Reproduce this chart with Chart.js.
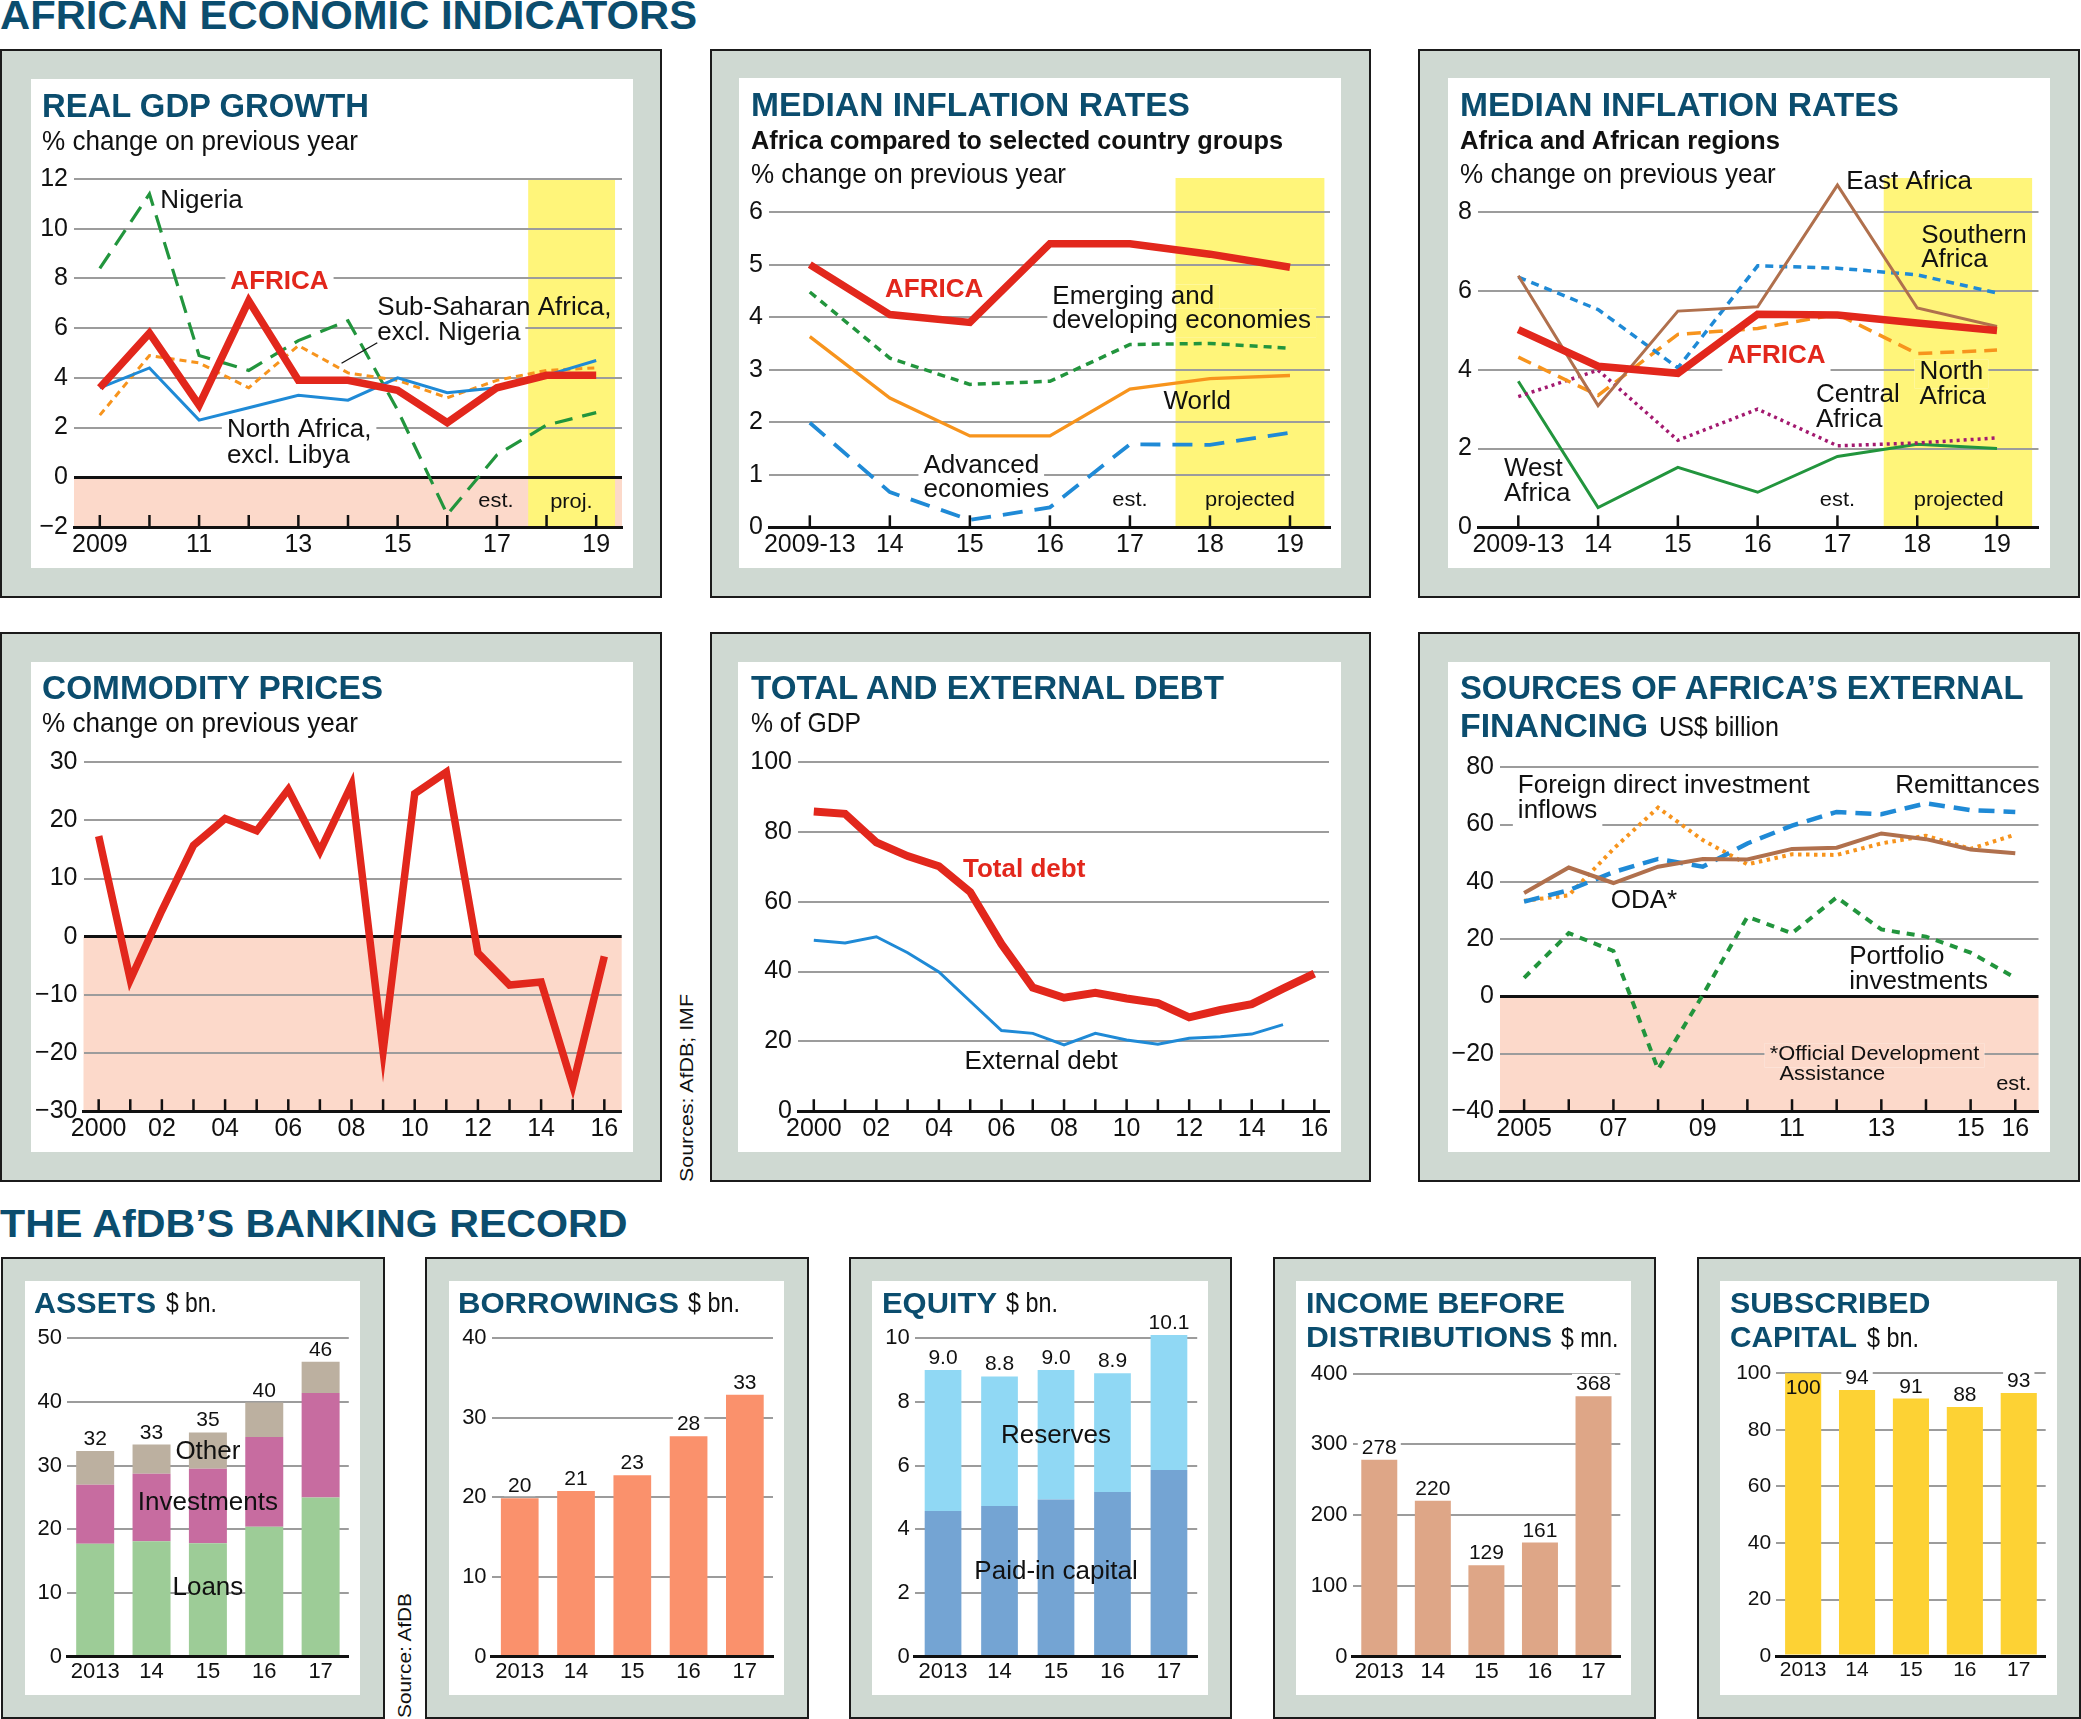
<!DOCTYPE html>
<html>
<head>
<meta charset="utf-8">
<script src="https://cdn.jsdelivr.net/npm/chart.js@4.4.1/dist/chart.umd.min.js"></script>
<style>
html, body { margin: 0; padding: 0; background: #fff; }
body { width: 2081px; height: 1719px; position: relative; overflow: hidden; font-family: "Liberation Sans", Arial, sans-serif; color: #111; }
.box { position: absolute; background: #cfd9d2; border: 2.5px solid #1b1b1b; box-sizing: border-box; }
.inner { position: absolute; background: #fff; }
canvas { position: absolute; }
.t { position: absolute; white-space: nowrap; line-height: 1; transform-origin: 0 0; }
</style>
</head>
<body>
<script>
// real GDP growth, % change on previous year
const gdpYears = [2009, 2010, 2011, 2012, 2013, 2014, 2015, 2016, 2017, 2018, 2019];
const gdpYearLabels = ['2009', '', '11', '', '13', '', '15', '', '17', '', '19'];
const gdpAfrica = [3.6, 5.8, 2.9, 7.1, 3.9, 3.9, 3.5, 2.2, 3.6, 4.1, 4.1];
const gdpNorthAfrica = [3.6, 4.4, 2.3, 2.8, 3.3, 3.1, 4.0, 3.4, 3.6, 4.1, 4.7];
const gdpSubSaharan = [2.5, 4.9, 4.6, 3.6, 5.3, 4.2, 3.9, 3.2, 3.9, 4.3, 4.4];
const gdpNigeria = [8.4, 11.4, 4.9, 4.3, 5.5, 6.3, 2.7, -1.5, 0.9, 2.1, 2.6];
const gdpTicks = [-2, 0, 2, 4, 6, 8, 10, 12];

// median inflation, Africa vs country groups
const inflPeriods = ['2009-13', '14', '15', '16', '17', '18', '19'];
const inflAfrica = [5.0, 4.05, 3.9, 5.4, 5.4, 5.2, 4.95];
const inflEmerging = [4.48, 3.22, 2.72, 2.78, 3.48, 3.5, 3.41];
const inflWorld = [3.63, 2.46, 1.74, 1.74, 2.63, 2.83, 2.89];
const inflAdvanced = [1.99, 0.67, 0.14, 0.38, 1.58, 1.57, 1.8];
const inflTicks = [0, 1, 2, 3, 4, 5, 6];

// median inflation, African regions
const regAfrica = [5.02, 4.09, 3.91, 5.41, 5.39, 5.19, 5.0];
const regEast = [6.39, 3.09, 5.49, 5.6, 8.69, 5.57, 5.1];
const regSouthern = [6.35, 5.53, 4.05, 6.64, 6.58, 6.41, 5.95];
const regNorth = [4.32, 3.35, 4.9, 5.05, 5.41, 4.41, 4.5];
const regCentral = [3.32, 3.99, 2.21, 3.0, 2.07, 2.14, 2.27];
const regWest = [3.71, 0.5, 1.52, 0.89, 1.8, 2.11, 2.0];
const regTicks = [0, 2, 4, 6, 8];

// commodity prices
const comYears = [2000, 2001, 2002, 2003, 2004, 2005, 2006, 2007, 2008, 2009, 2010, 2011, 2012, 2013, 2014, 2015, 2016];
const comYearLabels = ['2000', '', '02', '', '04', '', '06', '', '08', '', '10', '', '12', '', '14', '', '16'];
const comChange = [17.3, -7.4, 4.5, 15.7, 20.3, 18.2, 25.3, 14.7, 26.1, -19.7, 24.6, 28.3, -2.8, -8.3, -7.8, -25.6, -3.4];
const comTicks = [-30, -20, -10, 0, 10, 20, 30];

// total and external debt, % of GDP
const debtYears = [2000, 2001, 2002, 2003, 2004, 2005, 2006, 2007, 2008, 2009, 2010, 2011, 2012, 2013, 2014, 2015, 2016];
const debtTotal = [85.9, 85.2, 77.0, 73.1, 70.2, 62.8, 47.9, 35.4, 32.5, 33.9, 32.3, 31.0, 26.9, 29.0, 30.7, 35.1, 39.4];
const debtExternal = [49.0, 48.2, 50.0, 45.4, 39.9, 31.5, 23.1, 22.3, 19.0, 22.3, 20.4, 19.2, 20.9, 21.3, 22.1, 24.8];
const debtTicks = [0, 20, 40, 60, 80, 100];

// sources of external financing, US$ billion
const finYears = [2005, 2006, 2007, 2008, 2009, 2010, 2011, 2012, 2013, 2014, 2015, 2016];
const finYearLabels = ['2005', '', '07', '', '09', '', '11', '', '13', '', '15', '16'];
const finFdi = [33.4, 35.3, 51.5, 65.9, 54.6, 46.1, 49.6, 49.4, 53.4, 56.1, 51.5, 56.5];
const finRemit = [33.1, 37.1, 43.4, 48.0, 45.3, 53.4, 59.6, 64.4, 63.6, 67.4, 65.0, 64.4];
const finOda = [36.1, 45.0, 39.6, 45.3, 48.0, 47.8, 51.5, 51.9, 56.9, 54.9, 51.3, 50.0];
const finPortfolio = [6.5, 22.1, 15.9, -25.4, 0.5, 27.8, 22.1, 34.6, 23.4, 20.9, 15.3, 6.5];
const finTicks = [-40, -20, 0, 20, 40, 60, 80];

// AfDB banking record
const bankYears = ['2013', '14', '15', '16', '17'];
const assetLoans = [17.7, 18.1, 17.8, 20.4, 25.0];
const assetInvestments = [9.3, 10.6, 11.7, 14.1, 16.4];
const assetOther = [5.3, 4.6, 5.7, 5.4, 4.9];
const assetTicks = [0, 10, 20, 30, 40, 50];
const borrowings = [19.9, 20.8, 22.8, 27.7, 32.9];
const borrowTicks = [0, 10, 20, 30, 40];
const equityPaidIn = [4.57, 4.73, 4.93, 5.17, 5.86];
const equityReserves = [4.43, 4.07, 4.07, 3.73, 4.24];
const equityTicks = [0, 2, 4, 6, 8, 10];
const income = [278, 220, 129, 161, 368];
const incomeTicks = [0, 100, 200, 300, 400];
const subscribed = [100, 94, 91, 88, 93];
const subscribedTicks = [0, 20, 40, 60, 80, 100];

const FONT = '"Liberation Sans", Arial, sans-serif';
const RED = '#e2271c', BLUE = '#1f8ad6', ORANGE = '#f7941d', GREEN = '#22953d', BROWN = '#b0704d', PURPLE = '#a3196f';
const GRID = '#9c9c9c', PINK = '#fcd9ca', YELLOW = '#fff57a', NAVY = '#0b4d6e';

Chart.defaults.font.family = FONT;
Chart.defaults.color = '#111';

function box(x, y, w, h) {
  const d = document.createElement('div');
  d.className = 'box';
  Object.assign(d.style, { left: x + 'px', top: y + 'px', width: w + 'px', height: h + 'px' });
  document.body.appendChild(d);
}

function inner(r) {
  const d = document.createElement('div');
  d.className = 'inner';
  Object.assign(d.style, { left: r.x + 'px', top: r.y + 'px', width: r.w + 'px', height: r.h + 'px' });
  document.body.appendChild(d);
}

function text(x, base, str, size, o = {}) {
  const d = document.createElement('div');
  d.className = 't';
  d.textContent = str;
  d.style.fontSize = size + 'px';
  d.style.left = x + 'px';
  d.style.top = (base - 0.8465 * size) + 'px';
  d.style.fontWeight = o.bold ? 'bold' : 'normal';
  d.style.color = o.color || '#111';
  document.body.appendChild(d);
  if (o.w) d.style.transform = `scaleX(${o.w / d.getBoundingClientRect().width})`;
  return d;
}

function vtext(x, y, str, size, w) {
  const d = text(x, 0, str, size);
  d.style.top = y + 'px';
  const k = w / d.getBoundingClientRect().width;
  d.style.transform = `rotate(-90deg) scaleX(${k})`;
}

function line(xs, ys, color, width, dash) {
  return {
    data: ys.map((v, i) => ({ x: xs[i], y: v })),
    borderColor: color, borderWidth: width, borderDash: dash || [],
    pointRadius: 0, fill: false, tension: 0
  };
}

function yAxis(min, max, ticks, size, pad) {
  const dark = c => c.tick && (c.tick.value === 0 || c.tick.value === min);
  return {
    type: 'linear', min, max,
    afterBuildTicks: s => { s.ticks = ticks.map(v => ({ value: v })); },
    border: { display: false },
    grid: { drawTicks: false, color: c => dark(c) ? '#111' : GRID, lineWidth: c => dark(c) ? 3 : 2 },
    ticks: { padding: pad, color: '#111', font: { family: FONT, size }, callback: v => String(v).replace('-', '\u2212') }
  };
}

function xLinear(min, max, values, labels) {
  return {
    type: 'linear', min, max,
    afterBuildTicks: s => { s.ticks = values.map(v => ({ value: v })); },
    grid: { display: false },
    border: { display: true, color: '#111', width: 3 },
    ticks: { padding: -2.5, autoSkip: false, maxRotation: 0, minRotation: 0, color: '#111', font: { family: FONT, size: 25, lineHeight: 1 }, callback: (v, i) => labels[i] }
  };
}

function xCat(size) {
  return {
    type: 'category',
    grid: { display: false },
    border: { display: true, color: '#111', width: 3 },
    ticks: { padding: -4, autoSkip: false, maxRotation: 0, minRotation: 0, color: '#111', font: { family: FONT, size, lineHeight: 1 } }
  };
}

// fill a rectangle with whatever sits behind it (white, pink, yellow), hiding gridlines
function paintBg(chart, o, x1, y1, x2, y2) {
  const { ctx, scales: { x, y } } = chart;
  ctx.fillStyle = '#fff';
  ctx.fillRect(x1, y1, x2 - x1, y2 - y1);
  if (o.pink) {
    const top = Math.max(y1, y.getPixelForValue(0));
    if (y2 > top) { ctx.fillStyle = PINK; ctx.fillRect(x1, top, x2 - x1, y2 - top); }
  }
  if (o.band) {
    const b1 = Math.max(x1, x.getPixelForValue(o.band[0])), b2 = Math.min(x2, x.getPixelForValue(o.band[1]));
    if (b2 > b1) { ctx.fillStyle = YELLOW; ctx.fillRect(b1, y1, b2 - b1, y2 - y1); }
  }
}

function noteFont(n) { return (n.bold ? 'bold ' : '') + (n.size || 25) + 'px ' + FONT; }

function noteBox(chart, n) {
  const ctx = chart.ctx;
  ctx.font = noteFont(n);
  const k = n.k || 1.04, size = n.size || 25;
  const w = ctx.measureText(n.text).width * k;
  const px = chart.scales.x.getPixelForValue(n.x), py = chart.scales.y.getPixelForValue(n.y);
  let x1 = px;
  if (n.align === 'center') x1 = px - w / 2;
  if (n.align === 'right') x1 = px - w;
  return { px, py, k, x1: x1 - 5, x2: x1 + w + 5, y1: py - 0.78 * size, y2: py + 0.38 * size };
}

function drawNote(chart, n) {
  const ctx = chart.ctx, b = noteBox(chart, n);
  ctx.save();
  ctx.font = noteFont(n);
  ctx.fillStyle = n.color || '#111';
  ctx.textAlign = n.align || 'left';
  ctx.textBaseline = 'alphabetic';
  ctx.translate(b.px, b.py);
  ctx.scale(b.k, 1);
  ctx.fillText(n.text, 0, 0);
  ctx.restore();
}

function barTops(chart) {
  const meta = chart.getDatasetMeta(chart.data.datasets.length - 1);
  return meta.data.map(el => ({ x: el.x, y: el.y }));
}

function decor(o) {
  return {
    id: 'decor',
    beforeDraw(chart) {
      const { ctx, chartArea: a, scales: { x, y } } = chart;
      ctx.save();
      if (o.pink) {
        const z = y.getPixelForValue(0);
        ctx.fillStyle = PINK;
        ctx.fillRect(a.left, z, a.right - a.left, a.bottom - z);
      }
      if (o.band) {
        const x1 = x.getPixelForValue(o.band[0]), x2 = x.getPixelForValue(o.band[1]);
        ctx.fillStyle = YELLOW;
        ctx.fillRect(x1, a.top, x2 - x1, a.bottom - a.top);
      }
      ctx.restore();
    },
    beforeDatasetsDraw(chart) {
      const ctx = chart.ctx;
      ctx.save();
      (o.notes || []).filter(n => n.bg).forEach(n => {
        const b = noteBox(chart, n);
        paintBg(chart, o, b.x1, b.y1, b.x2, b.y2);
      });
      if (o.values) {
        ctx.font = o.valueSize + 'px ' + FONT;
        barTops(chart).forEach((t, i) => {
          if (o.inside && o.inside[i]) return;
          const w = ctx.measureText(o.values[i]).width;
          paintBg(chart, o, t.x - w / 2 - 4, t.y - 6 - o.valueSize * 0.78, t.x + w / 2 + 4, t.y - 6 + 4);
        });
      }
      ctx.restore();
    },
    afterDatasetsDraw(chart) {
      const { ctx, chartArea: a, scales: { x, y } } = chart;
      ctx.save();
      if (o.tickMarks) {
        ctx.strokeStyle = '#111';
        ctx.lineWidth = 2.5;
        x.ticks.forEach(t => {
          const p = x.getPixelForValue(t.value);
          ctx.beginPath();
          ctx.moveTo(p, a.bottom);
          ctx.lineTo(p, a.bottom - 12);
          ctx.stroke();
        });
      }
      (o.leaders || []).forEach(l => {
        ctx.strokeStyle = '#111';
        ctx.lineWidth = 1.3;
        ctx.beginPath();
        ctx.moveTo(x.getPixelForValue(l[0]), y.getPixelForValue(l[1]));
        ctx.lineTo(x.getPixelForValue(l[2]), y.getPixelForValue(l[3]));
        ctx.stroke();
      });
      (o.notes || []).forEach(n => drawNote(chart, n));
      if (o.values) {
        ctx.font = o.valueSize + 'px ' + FONT;
        ctx.fillStyle = '#111';
        ctx.textAlign = 'center';
        ctx.textBaseline = 'alphabetic';
        barTops(chart).forEach((t, i) => {
          const inside = o.inside && o.inside[i];
          ctx.fillText(o.values[i], t.x, inside ? t.y + 21 : t.y - 6);
        });
      }
      ctx.restore();
    }
  };
}

function chartBox(r, plot, cfg) {
  const cv = document.createElement('canvas');
  cv.width = r.w;
  cv.height = r.h;
  Object.assign(cv.style, { left: r.x + 'px', top: r.y + 'px', width: r.w + 'px', height: r.h + 'px' });
  document.body.appendChild(cv);
  const yW = plot.l - r.x, xH = r.y + r.h - plot.b;
  cfg.options.scales.x.afterFit = s => { s.height = xH; s.paddingLeft = 0; s.paddingRight = 0; };
  cfg.options.scales.y.afterFit = s => { s.width = yW; s.paddingTop = 0; s.paddingBottom = 0; };
  cfg.options.layout = { padding: { left: 0, top: plot.t - r.y, right: r.x + r.w - plot.r, bottom: 0 } };
  cfg.options.responsive = false;
  cfg.options.animation = false;
  cfg.options.devicePixelRatio = 1;
  cfg.options.events = [];
  cfg.options.plugins = { legend: { display: false }, tooltip: { enabled: false } };
  return new Chart(cv, cfg);
}

function lineChart(r, plot, sets, xs, ys, deco) {
  return chartBox(r, plot, { type: 'line', data: { datasets: sets }, options: { scales: { x: xs, y: ys } }, plugins: [decor(deco)] });
}

function barChart(r, plot, sets, yMax, yTicks, pct, size, deco) {
  const stacked = sets.length > 1;
  return chartBox(r, plot, {
    type: 'bar',
    data: {
      labels: bankYears,
      datasets: sets.map(s => ({ data: s.data, backgroundColor: s.color, borderWidth: 0, barPercentage: pct, categoryPercentage: 1 }))
    },
    options: {
      scales: {
        x: Object.assign(xCat(size), { stacked }),
        y: Object.assign(yAxis(0, yMax, yTicks, size, 5), { stacked })
      }
    },
    plugins: [decor(deco)]
  });
}

const idx = inflPeriods.map((_, i) => i);

// ---------- row 1 ----------
text(0, 30, 'AFRICAN ECONOMIC INDICATORS', 41, { bold: true, color: NAVY, w: 697 });

box(0, 49, 662, 549);
const r1 = { x: 31, y: 79, w: 602, h: 489 };
inner(r1);
lineChart(r1, { l: 74, r: 622, t: 179, b: 527 }, [
  line(gdpYears, gdpAfrica, RED, 7.5),
  line(gdpYears, gdpNorthAfrica, BLUE, 3),
  line(gdpYears, gdpSubSaharan, ORANGE, 3, [7, 5]),
  line(gdpYears, gdpNigeria, GREEN, 3.2, [18, 10])
], xLinear(2008.48, 2019.52, gdpYears, gdpYearLabels), yAxis(-2, 12, gdpTicks, 25, 6), {
  pink: true, band: [2017.63, 2019.38], tickMarks: true,
  leaders: [[2014.59, 5.41, 2013.87, 4.59]],
  notes: [
    { x: 2010.22, y: 10.82, text: 'Nigeria' },
    { x: 2011.63, y: 7.57, text: 'AFRICA', bold: true, color: RED, size: 26, k: 1, bg: true },
    { x: 2014.59, y: 6.54, text: 'Sub-Saharan Africa,' },
    { x: 2014.59, y: 5.53, text: 'excl. Nigeria', bg: true },
    { x: 2011.56, y: 1.62, text: 'North Africa,', bg: true },
    { x: 2011.56, y: 0.59, text: 'excl. Libya' },
    { x: 2016.98, y: -1.19, text: 'est.', size: 21, align: 'center' },
    { x: 2018.5, y: -1.24, text: 'proj.', size: 21, align: 'center' }
  ]
});
text(42, 117, 'REAL GDP GROWTH', 33, { bold: true, color: NAVY, w: 327 });
text(42, 150.5, '% change on previous year', 28, { w: 316 });

box(710, 49, 661, 549);
const r2 = { x: 739, y: 78, w: 602, h: 490 };
inner(r2);
lineChart(r2, { l: 769, r: 1330, t: 178, b: 527.3 }, [
  line(idx, inflAfrica, RED, 7.5),
  line(idx, inflEmerging, GREEN, 3.5, [8, 6]),
  line(idx, inflWorld, ORANGE, 3.3),
  line(idx, inflAdvanced, BLUE, 3.8, [20, 12])
], xLinear(-0.51, 6.5, idx, inflPeriods), yAxis(0, 6.65, inflTicks, 25, 6), {
  band: [4.57, 6.43], tickMarks: true,
  notes: [
    { x: 0.94, y: 4.38, text: 'AFRICA', bold: true, color: RED, size: 26, k: 1 },
    { x: 3.03, y: 4.25, text: 'Emerging and', bg: true },
    { x: 3.03, y: 3.79, text: 'developing economies', bg: true },
    { x: 4.42, y: 2.25, text: 'World' },
    { x: 1.42, y: 1.04, text: 'Advanced', bg: true },
    { x: 1.42, y: 0.58, text: 'economies' },
    { x: 4.0, y: 0.41, text: 'est.', size: 21, align: 'center' },
    { x: 5.5, y: 0.41, text: 'projected', size: 21, align: 'center' }
  ]
});
text(751, 116.3, 'MEDIAN INFLATION RATES', 33, { bold: true, color: NAVY, w: 439 });
text(751, 149.3, 'Africa compared to selected country groups', 26, { bold: true, w: 532 });
text(751, 183.3, '% change on previous year', 28, { w: 315 });

box(1418, 49, 662, 549);
const r3 = { x: 1448, y: 78, w: 602, h: 490 };
inner(r3);
lineChart(r3, { l: 1478, r: 2038.5, t: 178, b: 527.3 }, [
  line(idx, regAfrica, RED, 7.5),
  line(idx, regEast, BROWN, 3),
  line(idx, regSouthern, BLUE, 3.5, [8, 6]),
  line(idx, regNorth, ORANGE, 3.5, [14, 8]),
  line(idx, regCentral, PURPLE, 3.5, [3, 4]),
  line(idx, regWest, GREEN, 3)
], xLinear(-0.505, 6.52, idx, inflPeriods), yAxis(0, 8.87, regTicks, 25, 6), {
  band: [4.58, 6.44], tickMarks: true,
  notes: [
    { x: 4.11, y: 8.6, text: 'East Africa' },
    { x: 5.05, y: 7.23, text: 'Southern' },
    { x: 5.05, y: 6.61, text: 'Africa' },
    { x: 2.62, y: 4.18, text: 'AFRICA', bold: true, color: RED, size: 26, k: 1, bg: true },
    { x: 5.03, y: 3.77, text: 'North', bg: true },
    { x: 5.03, y: 3.14, text: 'Africa' },
    { x: 3.73, y: 3.18, text: 'Central' },
    { x: 3.73, y: 2.55, text: 'Africa' },
    { x: -0.18, y: 1.3, text: 'West' },
    { x: -0.18, y: 0.67, text: 'Africa' },
    { x: 4.0, y: 0.53, text: 'est.', size: 21, align: 'center' },
    { x: 5.52, y: 0.53, text: 'projected', size: 21, align: 'center' }
  ]
});
text(1459.6, 116.3, 'MEDIAN INFLATION RATES', 33, { bold: true, color: NAVY, w: 439 });
text(1459.6, 149.3, 'Africa and African regions', 26, { bold: true, w: 320 });
text(1459.6, 183.3, '% change on previous year', 28, { w: 315.6 });

// ---------- row 2 ----------
box(0, 632, 662, 550);
const r4 = { x: 31, y: 662, w: 602, h: 490 };
inner(r4);
lineChart(r4, { l: 83.5, r: 621.7, t: 762.2, b: 1111.2 }, [
  line(comYears, comChange, RED, 7.5)
], xLinear(1999.52, 2016.55, comYears, comYearLabels), yAxis(-30, 30, comTicks, 25, 6), {
  pink: true, tickMarks: true
});
text(42.4, 698.5, 'COMMODITY PRICES', 33, { bold: true, color: NAVY, w: 341 });
text(42.4, 732.5, '% change on previous year', 28, { w: 316 });

box(710, 632, 661, 550);
const r5 = { x: 738, y: 662, w: 603, h: 490 };
inner(r5);
lineChart(r5, { l: 798, r: 1329, t: 762.2, b: 1111.2 }, [
  line(debtYears, debtTotal, RED, 8),
  line(debtYears, debtExternal, BLUE, 3)
], xLinear(1999.495, 2016.47, debtYears, comYearLabels), yAxis(0, 100, debtTicks, 25, 6), {
  tickMarks: true,
  notes: [
    { x: 2004.77, y: 67.1, text: 'Total debt', bold: true, color: RED, size: 26, k: 1 },
    { x: 2004.82, y: 12.2, text: 'External debt' }
  ]
});
text(751, 698.5, 'TOTAL AND EXTERNAL DEBT', 33, { bold: true, color: NAVY, w: 473 });
text(751, 732.5, '% of GDP', 28, { w: 110 });
vtext(676.5, 1182, 'Sources: AfDB; IMF', 19, 188);

box(1418, 632, 662, 550);
const r6 = { x: 1448, y: 662, w: 602, h: 490 };
inner(r6);
lineChart(r6, { l: 1500, r: 2038.5, t: 767.2, b: 1111.2 }, [
  line(finYears, finOda, BROWN, 4),
  line(finYears, finRemit, BLUE, 4.5, [16, 9]),
  line(finYears, finFdi, ORANGE, 4, [3.5, 4.5]),
  line(finYears, finPortfolio, GREEN, 4, [8, 7])
], xLinear(2004.46, 2016.52, finYears, finYearLabels), yAxis(-40, 80, finTicks, 25, 6), {
  pink: true, tickMarks: true,
  notes: [
    { x: 2004.86, y: 70.9, text: 'Foreign direct investment' },
    { x: 2004.86, y: 62.4, text: 'inflows', bg: true },
    { x: 2013.31, y: 70.9, text: 'Remittances' },
    { x: 2006.94, y: 30.9, text: 'ODA*' },
    { x: 2012.28, y: 11.5, text: 'Portfolio' },
    { x: 2012.28, y: 2.76, text: 'investments' },
    { x: 2010.5, y: -22, text: '*Official Development', size: 21, bg: true },
    { x: 2010.72, y: -29.1, text: 'Assistance', size: 21 },
    { x: 2016.36, y: -32.6, text: 'est.', size: 21, align: 'right' }
  ]
});
text(1459.6, 698.5, 'SOURCES OF AFRICA\u2019S EXTERNAL', 33, { bold: true, color: NAVY, w: 563.6 });
text(1459.6, 737, 'FINANCING', 33, { bold: true, color: NAVY, w: 188 });
text(1659, 737, 'US$ billion', 28, { w: 120 });

// ---------- row 3: banking record ----------
text(0, 1237.4, 'THE AfDB\u2019S BANKING RECORD', 39, { bold: true, color: NAVY, w: 627.6 });

box(1, 1257, 384, 462);
const rA = { x: 25, y: 1281, w: 335, h: 414 };
inner(rA);
barChart(rA, { l: 67, r: 348.8, t: 1338.3, b: 1656.5 }, [
  { data: assetLoans, color: '#9dcc97' },
  { data: assetInvestments, color: '#c76ca0' },
  { data: assetOther, color: '#bcb0a0' }
], 50, assetTicks, 0.674, 22, {
  valueSize: 21,
  values: assetLoans.map((v, i) => String(Math.round(v + assetInvestments[i] + assetOther[i]))),
  notes: [
    { x: 2, y: 31.04, text: 'Other', size: 26, align: 'center', k: 1 },
    { x: 2, y: 23.0, text: 'Investments', size: 26, align: 'center', k: 1 },
    { x: 2, y: 9.59, text: 'Loans', size: 26, align: 'center', k: 1 }
  ]
});
text(34, 1312.9, 'ASSETS', 30, { bold: true, color: NAVY, w: 122 });
text(166.3, 1312.9, '$ bn.', 27, { w: 51 });
vtext(395, 1718, 'Source: AfDB', 19, 125);

box(425, 1257, 384, 462);
const rB = { x: 449, y: 1281, w: 335, h: 414 };
inner(rB);
barChart(rB, { l: 491.6, r: 773, t: 1338.3, b: 1656.5 }, [
  { data: borrowings, color: '#fa916c' }
], 40, borrowTicks, 0.67, 22, {
  valueSize: 21,
  values: borrowings.map(v => String(Math.round(v)))
});
text(457.6, 1312.9, 'BORROWINGS', 30, { bold: true, color: NAVY, w: 221 });
text(687.7, 1312.9, '$ bn.', 27, { w: 52 });

box(849, 1257, 383, 462);
const rC = { x: 872, y: 1281, w: 336, h: 414 };
inner(rC);
barChart(rC, { l: 914.8, r: 1197.2, t: 1328.7, b: 1656.5 }, [
  { data: equityPaidIn, color: '#74a4d3' },
  { data: equityReserves, color: '#90d8f4' }
], 10.3, equityTicks, 0.65, 22, {
  valueSize: 21,
  values: equityPaidIn.map((v, i) => (v + equityReserves[i]).toFixed(1)),
  notes: [
    { x: 2, y: 6.7, text: 'Reserves', size: 26, align: 'center', k: 1 },
    { x: 2, y: 2.43, text: 'Paid-in capital', size: 26, align: 'center', k: 1 }
  ]
});
text(881.8, 1312.9, 'EQUITY', 30, { bold: true, color: NAVY, w: 115 });
text(1006.3, 1312.9, '$ bn.', 27, { w: 52 });

box(1273, 1257, 383, 462);
const rD = { x: 1296, y: 1281, w: 335, h: 414 };
inner(rD);
barChart(rD, { l: 1352.5, r: 1620.3, t: 1373.5, b: 1656.5 }, [
  { data: income, color: '#dea687' }
], 400, incomeTicks, 0.672, 22, {
  valueSize: 21,
  values: income.map(v => String(v))
});
text(1305.5, 1313.6, 'INCOME BEFORE', 30, { bold: true, color: NAVY, w: 259 });
text(1305.5, 1347.4, 'DISTRIBUTIONS', 30, { bold: true, color: NAVY, w: 246 });
text(1560.7, 1347.4, '$ mn.', 27, { w: 57.5 });

box(1697, 1257, 384, 462);
const rE = { x: 1720, y: 1281, w: 337, h: 414 };
inner(rE);
barChart(rE, { l: 1776.2, r: 2045.7, t: 1370.3, b: 1656.1 }, [
  { data: subscribed, color: '#fdd234' }
], 101, subscribedTicks, 0.67, 21, {
  valueSize: 21,
  values: subscribed.map(v => String(v)),
  inside: [true, false, false, false, false]
});
text(1730, 1312.9, 'SUBSCRIBED', 30, { bold: true, color: NAVY, w: 200.5 });
text(1730, 1347.4, 'CAPITAL', 30, { bold: true, color: NAVY, w: 127 });
text(1867, 1347.4, '$ bn.', 27, { w: 52 });
</script>
</body>
</html>
